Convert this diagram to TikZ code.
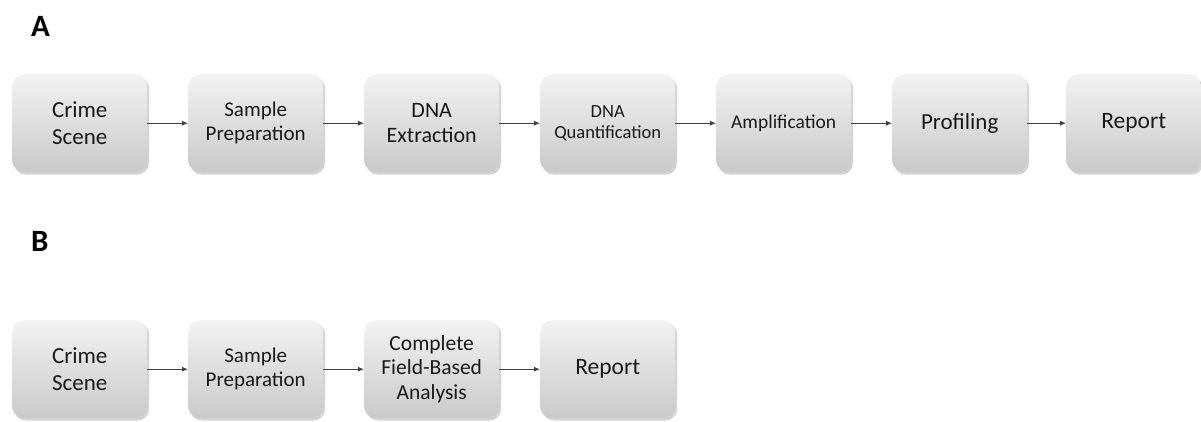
\documentclass[tikz,border=0pt]{standalone}
\usepackage{fontspec}
\setmainfont{Carlito}
\usetikzlibrary{shadows,arrows.meta}
\begin{document}
\begin{tikzpicture}[x=1pt,y=-1pt,
  box/.style={rounded corners=12pt, minimum width=135pt, minimum height=98pt,
    top color=gray!10, bottom color=gray!42, draw=none,
    drop shadow={shadow xshift=2pt,shadow yshift=-2.5pt,opacity=0.35,fill=gray},
    align=center, text=black!90, inner sep=0pt, anchor=north west},
  link/.style={-{Latex[length=6pt,width=5pt]}, draw=black!75, line width=0.8pt},
  lbl/.style={font=\bfseries\fontsize{31pt}{31pt}\selectfont, anchor=base west, inner sep=0pt},
  fs/.style={font=\fontsize{#1pt}{1.15\dimexpr #1pt\relax}\selectfont}]
\useasboundingbox (0,0) rectangle (1201,421);
\node[lbl] (la) at (31,36) {A};
\node[lbl] (lb) at (31,251) {B};
% Row A
\node[box,fs=23] (a1) at (12,74) {Crime\\Scene};
\node[box,fs=21] (a2) at (188,74) {Sample\\Preparation};
\node[box,fs=22] (a3) at (364,74) {DNA\\Extraction};
\node[box,fs=18.5] (a4) at (540,74) {DNA\\Quantification};
\node[box,fs=19.5] (a5) at (716,74) {Amplification};
\node[box,fs=23] (a6) at (892,74) {Profiling};
\node[box,fs=23.5] (a7) at (1066,74) {Report};
\foreach \i/\j in {a1/a2,a2/a3,a3/a4,a4/a5,a5/a6,a6/a7}
  \draw[link] (\i.east) -- (\j.west);
% Row B
\node[box,fs=23] (b1) at (12,320) {Crime\\Scene};
\node[box,fs=21] (b2) at (188,320) {Sample\\Preparation};
\node[box,fs=21.5] (b3) at (364,320) {Complete\\Field-Based\\Analysis};
\node[box,fs=23.5] (b4) at (540,320) {Report};
\foreach \i/\j in {b1/b2,b2/b3,b3/b4}
  \draw[link] (\i.east) -- (\j.west);
\end{tikzpicture}
\end{document}
